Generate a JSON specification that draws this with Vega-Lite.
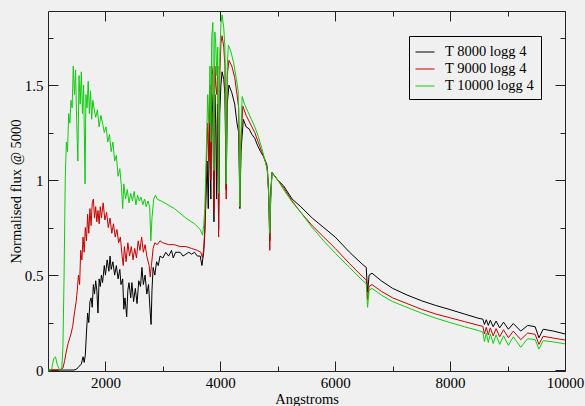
{
  "$schema": "https://vega.github.io/schema/vega-lite/v6.json",
  "width": 517,
  "height": 360,
  "autosize": {"type": "none"},
  "padding": {"left": 48, "top": 11, "right": 20, "bottom": 35},
  "background": "#f0f0f0",
  "config": {
    "font": "Liberation Serif",
    "view": {"stroke": "#222222", "strokeWidth": 1, "fill": null},
    "axis": {"domain": false, "grid": false, "tickColor": "#222222", "labelColor": "#000000", "titleColor": "#000000", "labelFont": "Liberation Serif", "titleFont": "Liberation Serif", "labelFontSize": 15, "titleFontSize": 14.5, "titleFontWeight": "normal"}
  },
  "datasets": {
    "spec": [
      {"s":"T 8000 logg 4","w":1000,"f":0},{"s":"T 8000 logg 4","w":1450,"f":0},{"s":"T 8000 logg 4","w":1500,"f":0.005},{"s":"T 8000 logg 4","w":1540,"f":0.02},{"s":"T 8000 logg 4","w":1580,"f":0.03},{"s":"T 8000 logg 4","w":1610,"f":0.07},{"s":"T 8000 logg 4","w":1630,"f":0.04},{"s":"T 8000 logg 4","w":1650,"f":0.08},{"s":"T 8000 logg 4","w":1670,"f":0.2},{"s":"T 8000 logg 4","w":1690,"f":0.3},{"s":"T 8000 logg 4","w":1710,"f":0.25},{"s":"T 8000 logg 4","w":1730,"f":0.36},{"s":"T 8000 logg 4","w":1750,"f":0.38},{"s":"T 8000 logg 4","w":1770,"f":0.33},{"s":"T 8000 logg 4","w":1790,"f":0.45},{"s":"T 8000 logg 4","w":1810,"f":0.4},{"s":"T 8000 logg 4","w":1830,"f":0.47},{"s":"T 8000 logg 4","w":1850,"f":0.42},{"s":"T 8000 logg 4","w":1870,"f":0.3},{"s":"T 8000 logg 4","w":1890,"f":0.48},{"s":"T 8000 logg 4","w":1910,"f":0.44},{"s":"T 8000 logg 4","w":1930,"f":0.5},{"s":"T 8000 logg 4","w":1950,"f":0.46},{"s":"T 8000 logg 4","w":1980,"f":0.55},{"s":"T 8000 logg 4","w":2000,"f":0.5},{"s":"T 8000 logg 4","w":2030,"f":0.58},{"s":"T 8000 logg 4","w":2060,"f":0.52},{"s":"T 8000 logg 4","w":2080,"f":0.6},{"s":"T 8000 logg 4","w":2100,"f":0.53},{"s":"T 8000 logg 4","w":2130,"f":0.57},{"s":"T 8000 logg 4","w":2160,"f":0.5},{"s":"T 8000 logg 4","w":2190,"f":0.55},{"s":"T 8000 logg 4","w":2220,"f":0.48},{"s":"T 8000 logg 4","w":2250,"f":0.53},{"s":"T 8000 logg 4","w":2270,"f":0.45},{"s":"T 8000 logg 4","w":2300,"f":0.48},{"s":"T 8000 logg 4","w":2320,"f":0.32},{"s":"T 8000 logg 4","w":2340,"f":0.38},{"s":"T 8000 logg 4","w":2370,"f":0.28},{"s":"T 8000 logg 4","w":2390,"f":0.42},{"s":"T 8000 logg 4","w":2410,"f":0.46},{"s":"T 8000 logg 4","w":2440,"f":0.38},{"s":"T 8000 logg 4","w":2460,"f":0.46},{"s":"T 8000 logg 4","w":2490,"f":0.36},{"s":"T 8000 logg 4","w":2520,"f":0.43},{"s":"T 8000 logg 4","w":2550,"f":0.35},{"s":"T 8000 logg 4","w":2580,"f":0.47},{"s":"T 8000 logg 4","w":2610,"f":0.44},{"s":"T 8000 logg 4","w":2635,"f":0.54},{"s":"T 8000 logg 4","w":2660,"f":0.45},{"s":"T 8000 logg 4","w":2690,"f":0.5},{"s":"T 8000 logg 4","w":2720,"f":0.4},{"s":"T 8000 logg 4","w":2750,"f":0.45},{"s":"T 8000 logg 4","w":2780,"f":0.3},{"s":"T 8000 logg 4","w":2795,"f":0.24},{"s":"T 8000 logg 4","w":2810,"f":0.42},{"s":"T 8000 logg 4","w":2830,"f":0.54},{"s":"T 8000 logg 4","w":2860,"f":0.5},{"s":"T 8000 logg 4","w":2890,"f":0.57},{"s":"T 8000 logg 4","w":2920,"f":0.55},{"s":"T 8000 logg 4","w":2950,"f":0.6},{"s":"T 8000 logg 4","w":3000,"f":0.59},{"s":"T 8000 logg 4","w":3050,"f":0.62},{"s":"T 8000 logg 4","w":3100,"f":0.6},{"s":"T 8000 logg 4","w":3150,"f":0.63},{"s":"T 8000 logg 4","w":3180,"f":0.59},{"s":"T 8000 logg 4","w":3220,"f":0.62},{"s":"T 8000 logg 4","w":3300,"f":0.62},{"s":"T 8000 logg 4","w":3350,"f":0.6},{"s":"T 8000 logg 4","w":3400,"f":0.61},{"s":"T 8000 logg 4","w":3450,"f":0.62},{"s":"T 8000 logg 4","w":3500,"f":0.61},{"s":"T 8000 logg 4","w":3550,"f":0.62},{"s":"T 8000 logg 4","w":3600,"f":0.6},{"s":"T 8000 logg 4","w":3650,"f":0.6},{"s":"T 8000 logg 4","w":3680,"f":0.55},{"s":"T 8000 logg 4","w":3710,"f":0.62},{"s":"T 8000 logg 4","w":3730,"f":0.72},{"s":"T 8000 logg 4","w":3750,"f":0.9},{"s":"T 8000 logg 4","w":3770,"f":1.1},{"s":"T 8000 logg 4","w":3790,"f":0.85},{"s":"T 8000 logg 4","w":3810,"f":1.3},{"s":"T 8000 logg 4","w":3835,"f":0.9},{"s":"T 8000 logg 4","w":3850,"f":1.45},{"s":"T 8000 logg 4","w":3870,"f":1.35},{"s":"T 8000 logg 4","w":3889,"f":0.78},{"s":"T 8000 logg 4","w":3905,"f":1.45},{"s":"T 8000 logg 4","w":3920,"f":1.3},{"s":"T 8000 logg 4","w":3934,"f":0.9},{"s":"T 8000 logg 4","w":3950,"f":1.4},{"s":"T 8000 logg 4","w":3970,"f":0.74},{"s":"T 8000 logg 4","w":3990,"f":1.35},{"s":"T 8000 logg 4","w":4010,"f":1.5},{"s":"T 8000 logg 4","w":4030,"f":1.57},{"s":"T 8000 logg 4","w":4060,"f":1.53},{"s":"T 8000 logg 4","w":4080,"f":1.45},{"s":"T 8000 logg 4","w":4102,"f":0.95},{"s":"T 8000 logg 4","w":4120,"f":1.4},{"s":"T 8000 logg 4","w":4150,"f":1.5},{"s":"T 8000 logg 4","w":4200,"f":1.46},{"s":"T 8000 logg 4","w":4250,"f":1.4},{"s":"T 8000 logg 4","w":4290,"f":1.3},{"s":"T 8000 logg 4","w":4320,"f":1.25},{"s":"T 8000 logg 4","w":4340,"f":0.85},{"s":"T 8000 logg 4","w":4360,"f":1.15},{"s":"T 8000 logg 4","w":4400,"f":1.32},{"s":"T 8000 logg 4","w":4450,"f":1.28},{"s":"T 8000 logg 4","w":4500,"f":1.27},{"s":"T 8000 logg 4","w":4550,"f":1.24},{"s":"T 8000 logg 4","w":4600,"f":1.22},{"s":"T 8000 logg 4","w":4650,"f":1.18},{"s":"T 8000 logg 4","w":4700,"f":1.15},{"s":"T 8000 logg 4","w":4760,"f":1.12},{"s":"T 8000 logg 4","w":4810,"f":1.08},{"s":"T 8000 logg 4","w":4840,"f":0.95},{"s":"T 8000 logg 4","w":4861,"f":0.68},{"s":"T 8000 logg 4","w":4880,"f":0.95},{"s":"T 8000 logg 4","w":4900,"f":1.04},{"s":"T 8000 logg 4","w":4950,"f":1.02},{"s":"T 8000 logg 4","w":5000,"f":1.0},{"s":"T 8000 logg 4","w":5100,"f":0.97},{"s":"T 8000 logg 4","w":5250,"f":0.9},{"s":"T 8000 logg 4","w":5400,"f":0.86},{"s":"T 8000 logg 4","w":5600,"f":0.8},{"s":"T 8000 logg 4","w":5800,"f":0.75},{"s":"T 8000 logg 4","w":6000,"f":0.7},{"s":"T 8000 logg 4","w":6250,"f":0.62},{"s":"T 8000 logg 4","w":6480,"f":0.555},{"s":"T 8000 logg 4","w":6540,"f":0.54},{"s":"T 8000 logg 4","w":6563,"f":0.41},{"s":"T 8000 logg 4","w":6590,"f":0.5},{"s":"T 8000 logg 4","w":6640,"f":0.51},{"s":"T 8000 logg 4","w":6800,"f":0.47},{"s":"T 8000 logg 4","w":7000,"f":0.43},{"s":"T 8000 logg 4","w":7250,"f":0.395},{"s":"T 8000 logg 4","w":7500,"f":0.365},{"s":"T 8000 logg 4","w":7750,"f":0.34},{"s":"T 8000 logg 4","w":8000,"f":0.318},{"s":"T 8000 logg 4","w":8250,"f":0.295},{"s":"T 8000 logg 4","w":8500,"f":0.272},{"s":"T 8000 logg 4","w":8570,"f":0.268},{"s":"T 8000 logg 4","w":8598,"f":0.24},{"s":"T 8000 logg 4","w":8630,"f":0.265},{"s":"T 8000 logg 4","w":8665,"f":0.235},{"s":"T 8000 logg 4","w":8700,"f":0.262},{"s":"T 8000 logg 4","w":8750,"f":0.228},{"s":"T 8000 logg 4","w":8800,"f":0.258},{"s":"T 8000 logg 4","w":8863,"f":0.222},{"s":"T 8000 logg 4","w":8930,"f":0.252},{"s":"T 8000 logg 4","w":9015,"f":0.215},{"s":"T 8000 logg 4","w":9100,"f":0.245},{"s":"T 8000 logg 4","w":9229,"f":0.205},{"s":"T 8000 logg 4","w":9350,"f":0.235},{"s":"T 8000 logg 4","w":9480,"f":0.228},{"s":"T 8000 logg 4","w":9546,"f":0.17},{"s":"T 8000 logg 4","w":9620,"f":0.215},{"s":"T 8000 logg 4","w":9800,"f":0.205},{"s":"T 8000 logg 4","w":10000,"f":0.19},

      {"s":"T 9000 logg 4","w":1000,"f":0},{"s":"T 9000 logg 4","w":1200,"f":0},{"s":"T 9000 logg 4","w":1230,"f":0.005},{"s":"T 9000 logg 4","w":1260,"f":0.01},{"s":"T 9000 logg 4","w":1290,"f":0.05},{"s":"T 9000 logg 4","w":1320,"f":0.1},{"s":"T 9000 logg 4","w":1350,"f":0.14},{"s":"T 9000 logg 4","w":1380,"f":0.17},{"s":"T 9000 logg 4","w":1400,"f":0.19},{"s":"T 9000 logg 4","w":1430,"f":0.23},{"s":"T 9000 logg 4","w":1460,"f":0.3},{"s":"T 9000 logg 4","w":1490,"f":0.36},{"s":"T 9000 logg 4","w":1510,"f":0.42},{"s":"T 9000 logg 4","w":1530,"f":0.5},{"s":"T 9000 logg 4","w":1550,"f":0.45},{"s":"T 9000 logg 4","w":1570,"f":0.63},{"s":"T 9000 logg 4","w":1590,"f":0.58},{"s":"T 9000 logg 4","w":1610,"f":0.7},{"s":"T 9000 logg 4","w":1630,"f":0.62},{"s":"T 9000 logg 4","w":1650,"f":0.75},{"s":"T 9000 logg 4","w":1670,"f":0.68},{"s":"T 9000 logg 4","w":1690,"f":0.82},{"s":"T 9000 logg 4","w":1710,"f":0.72},{"s":"T 9000 logg 4","w":1730,"f":0.85},{"s":"T 9000 logg 4","w":1750,"f":0.76},{"s":"T 9000 logg 4","w":1770,"f":0.88},{"s":"T 9000 logg 4","w":1790,"f":0.9},{"s":"T 9000 logg 4","w":1810,"f":0.8},{"s":"T 9000 logg 4","w":1830,"f":0.86},{"s":"T 9000 logg 4","w":1850,"f":0.78},{"s":"T 9000 logg 4","w":1870,"f":0.84},{"s":"T 9000 logg 4","w":1890,"f":0.77},{"s":"T 9000 logg 4","w":1910,"f":0.86},{"s":"T 9000 logg 4","w":1930,"f":0.8},{"s":"T 9000 logg 4","w":1960,"f":0.88},{"s":"T 9000 logg 4","w":1990,"f":0.79},{"s":"T 9000 logg 4","w":2020,"f":0.83},{"s":"T 9000 logg 4","w":2050,"f":0.75},{"s":"T 9000 logg 4","w":2080,"f":0.8},{"s":"T 9000 logg 4","w":2110,"f":0.72},{"s":"T 9000 logg 4","w":2140,"f":0.77},{"s":"T 9000 logg 4","w":2170,"f":0.7},{"s":"T 9000 logg 4","w":2200,"f":0.74},{"s":"T 9000 logg 4","w":2230,"f":0.67},{"s":"T 9000 logg 4","w":2260,"f":0.7},{"s":"T 9000 logg 4","w":2290,"f":0.6},{"s":"T 9000 logg 4","w":2310,"f":0.55},{"s":"T 9000 logg 4","w":2330,"f":0.65},{"s":"T 9000 logg 4","w":2360,"f":0.57},{"s":"T 9000 logg 4","w":2390,"f":0.67},{"s":"T 9000 logg 4","w":2420,"f":0.6},{"s":"T 9000 logg 4","w":2450,"f":0.65},{"s":"T 9000 logg 4","w":2480,"f":0.58},{"s":"T 9000 logg 4","w":2510,"f":0.64},{"s":"T 9000 logg 4","w":2540,"f":0.59},{"s":"T 9000 logg 4","w":2570,"f":0.68},{"s":"T 9000 logg 4","w":2600,"f":0.63},{"s":"T 9000 logg 4","w":2630,"f":0.7},{"s":"T 9000 logg 4","w":2660,"f":0.62},{"s":"T 9000 logg 4","w":2690,"f":0.66},{"s":"T 9000 logg 4","w":2720,"f":0.6},{"s":"T 9000 logg 4","w":2760,"f":0.55},{"s":"T 9000 logg 4","w":2780,"f":0.49},{"s":"T 9000 logg 4","w":2800,"f":0.55},{"s":"T 9000 logg 4","w":2830,"f":0.64},{"s":"T 9000 logg 4","w":2860,"f":0.67},{"s":"T 9000 logg 4","w":2900,"f":0.66},{"s":"T 9000 logg 4","w":2950,"f":0.68},{"s":"T 9000 logg 4","w":3000,"f":0.67},{"s":"T 9000 logg 4","w":3100,"f":0.66},{"s":"T 9000 logg 4","w":3200,"f":0.66},{"s":"T 9000 logg 4","w":3300,"f":0.65},{"s":"T 9000 logg 4","w":3400,"f":0.65},{"s":"T 9000 logg 4","w":3500,"f":0.64},{"s":"T 9000 logg 4","w":3600,"f":0.63},{"s":"T 9000 logg 4","w":3660,"f":0.62},{"s":"T 9000 logg 4","w":3690,"f":0.59},{"s":"T 9000 logg 4","w":3715,"f":0.65},{"s":"T 9000 logg 4","w":3735,"f":0.8},{"s":"T 9000 logg 4","w":3760,"f":1.1},{"s":"T 9000 logg 4","w":3780,"f":1.3},{"s":"T 9000 logg 4","w":3800,"f":1.1},{"s":"T 9000 logg 4","w":3820,"f":1.5},{"s":"T 9000 logg 4","w":3835,"f":1.0},{"s":"T 9000 logg 4","w":3850,"f":1.6},{"s":"T 9000 logg 4","w":3870,"f":1.55},{"s":"T 9000 logg 4","w":3889,"f":0.84},{"s":"T 9000 logg 4","w":3905,"f":1.6},{"s":"T 9000 logg 4","w":3920,"f":1.5},{"s":"T 9000 logg 4","w":3940,"f":1.45},{"s":"T 9000 logg 4","w":3955,"f":1.6},{"s":"T 9000 logg 4","w":3970,"f":0.7},{"s":"T 9000 logg 4","w":3990,"f":1.55},{"s":"T 9000 logg 4","w":4010,"f":1.72},{"s":"T 9000 logg 4","w":4030,"f":1.76},{"s":"T 9000 logg 4","w":4060,"f":1.7},{"s":"T 9000 logg 4","w":4080,"f":1.6},{"s":"T 9000 logg 4","w":4102,"f":0.9},{"s":"T 9000 logg 4","w":4120,"f":1.55},{"s":"T 9000 logg 4","w":4150,"f":1.63},{"s":"T 9000 logg 4","w":4200,"f":1.6},{"s":"T 9000 logg 4","w":4250,"f":1.54},{"s":"T 9000 logg 4","w":4290,"f":1.45},{"s":"T 9000 logg 4","w":4320,"f":1.38},{"s":"T 9000 logg 4","w":4340,"f":0.86},{"s":"T 9000 logg 4","w":4360,"f":1.2},{"s":"T 9000 logg 4","w":4390,"f":1.39},{"s":"T 9000 logg 4","w":4450,"f":1.34},{"s":"T 9000 logg 4","w":4500,"f":1.31},{"s":"T 9000 logg 4","w":4550,"f":1.28},{"s":"T 9000 logg 4","w":4600,"f":1.25},{"s":"T 9000 logg 4","w":4660,"f":1.2},{"s":"T 9000 logg 4","w":4720,"f":1.15},{"s":"T 9000 logg 4","w":4780,"f":1.1},{"s":"T 9000 logg 4","w":4820,"f":1.06},{"s":"T 9000 logg 4","w":4845,"f":0.9},{"s":"T 9000 logg 4","w":4861,"f":0.63},{"s":"T 9000 logg 4","w":4875,"f":0.9},{"s":"T 9000 logg 4","w":4900,"f":1.04},{"s":"T 9000 logg 4","w":4950,"f":1.02},{"s":"T 9000 logg 4","w":5000,"f":1.0},{"s":"T 9000 logg 4","w":5100,"f":0.96},{"s":"T 9000 logg 4","w":5250,"f":0.89},{"s":"T 9000 logg 4","w":5400,"f":0.83},{"s":"T 9000 logg 4","w":5600,"f":0.76},{"s":"T 9000 logg 4","w":5800,"f":0.7},{"s":"T 9000 logg 4","w":6000,"f":0.64},{"s":"T 9000 logg 4","w":6250,"f":0.56},{"s":"T 9000 logg 4","w":6480,"f":0.49},{"s":"T 9000 logg 4","w":6540,"f":0.475},{"s":"T 9000 logg 4","w":6563,"f":0.37},{"s":"T 9000 logg 4","w":6590,"f":0.44},{"s":"T 9000 logg 4","w":6640,"f":0.45},{"s":"T 9000 logg 4","w":6800,"f":0.415},{"s":"T 9000 logg 4","w":7000,"f":0.38},{"s":"T 9000 logg 4","w":7250,"f":0.35},{"s":"T 9000 logg 4","w":7500,"f":0.32},{"s":"T 9000 logg 4","w":7750,"f":0.295},{"s":"T 9000 logg 4","w":8000,"f":0.275},{"s":"T 9000 logg 4","w":8250,"f":0.255},{"s":"T 9000 logg 4","w":8500,"f":0.235},{"s":"T 9000 logg 4","w":8570,"f":0.23},{"s":"T 9000 logg 4","w":8598,"f":0.19},{"s":"T 9000 logg 4","w":8630,"f":0.225},{"s":"T 9000 logg 4","w":8665,"f":0.185},{"s":"T 9000 logg 4","w":8700,"f":0.222},{"s":"T 9000 logg 4","w":8750,"f":0.18},{"s":"T 9000 logg 4","w":8800,"f":0.218},{"s":"T 9000 logg 4","w":8863,"f":0.175},{"s":"T 9000 logg 4","w":8930,"f":0.212},{"s":"T 9000 logg 4","w":9015,"f":0.17},{"s":"T 9000 logg 4","w":9100,"f":0.205},{"s":"T 9000 logg 4","w":9229,"f":0.16},{"s":"T 9000 logg 4","w":9350,"f":0.195},{"s":"T 9000 logg 4","w":9480,"f":0.188},{"s":"T 9000 logg 4","w":9546,"f":0.135},{"s":"T 9000 logg 4","w":9620,"f":0.178},{"s":"T 9000 logg 4","w":9800,"f":0.168},{"s":"T 9000 logg 4","w":10000,"f":0.158},

      {"s":"T 10000 logg 4","w":1000,"f":0},{"s":"T 10000 logg 4","w":1060,"f":0},{"s":"T 10000 logg 4","w":1100,"f":0.06},{"s":"T 10000 logg 4","w":1130,"f":0.07},{"s":"T 10000 logg 4","w":1160,"f":0.03},{"s":"T 10000 logg 4","w":1200,"f":0},{"s":"T 10000 logg 4","w":1240,"f":0.01},{"s":"T 10000 logg 4","w":1260,"f":0.12},{"s":"T 10000 logg 4","w":1280,"f":0.5},{"s":"T 10000 logg 4","w":1300,"f":1.0},{"s":"T 10000 logg 4","w":1320,"f":1.2},{"s":"T 10000 logg 4","w":1340,"f":1.15},{"s":"T 10000 logg 4","w":1360,"f":1.35},{"s":"T 10000 logg 4","w":1380,"f":1.3},{"s":"T 10000 logg 4","w":1400,"f":1.42},{"s":"T 10000 logg 4","w":1420,"f":1.38},{"s":"T 10000 logg 4","w":1440,"f":1.6},{"s":"T 10000 logg 4","w":1460,"f":1.45},{"s":"T 10000 logg 4","w":1480,"f":1.58},{"s":"T 10000 logg 4","w":1500,"f":1.3},{"s":"T 10000 logg 4","w":1520,"f":1.1},{"s":"T 10000 logg 4","w":1540,"f":1.55},{"s":"T 10000 logg 4","w":1560,"f":1.4},{"s":"T 10000 logg 4","w":1580,"f":1.57},{"s":"T 10000 logg 4","w":1600,"f":1.35},{"s":"T 10000 logg 4","w":1620,"f":1.5},{"s":"T 10000 logg 4","w":1645,"f":0.98},{"s":"T 10000 logg 4","w":1660,"f":1.45},{"s":"T 10000 logg 4","w":1680,"f":1.38},{"s":"T 10000 logg 4","w":1700,"f":1.52},{"s":"T 10000 logg 4","w":1720,"f":1.35},{"s":"T 10000 logg 4","w":1740,"f":1.47},{"s":"T 10000 logg 4","w":1760,"f":1.32},{"s":"T 10000 logg 4","w":1780,"f":1.42},{"s":"T 10000 logg 4","w":1800,"f":1.38},{"s":"T 10000 logg 4","w":1830,"f":1.33},{"s":"T 10000 logg 4","w":1860,"f":1.37},{"s":"T 10000 logg 4","w":1890,"f":1.28},{"s":"T 10000 logg 4","w":1920,"f":1.34},{"s":"T 10000 logg 4","w":1950,"f":1.3},{"s":"T 10000 logg 4","w":1980,"f":1.25},{"s":"T 10000 logg 4","w":2010,"f":1.28},{"s":"T 10000 logg 4","w":2040,"f":1.2},{"s":"T 10000 logg 4","w":2070,"f":1.24},{"s":"T 10000 logg 4","w":2100,"f":1.15},{"s":"T 10000 logg 4","w":2130,"f":1.2},{"s":"T 10000 logg 4","w":2160,"f":1.1},{"s":"T 10000 logg 4","w":2190,"f":1.13},{"s":"T 10000 logg 4","w":2220,"f":1.02},{"s":"T 10000 logg 4","w":2250,"f":1.06},{"s":"T 10000 logg 4","w":2280,"f":0.96},{"s":"T 10000 logg 4","w":2300,"f":0.85},{"s":"T 10000 logg 4","w":2320,"f":0.98},{"s":"T 10000 logg 4","w":2350,"f":0.9},{"s":"T 10000 logg 4","w":2380,"f":0.95},{"s":"T 10000 logg 4","w":2410,"f":0.88},{"s":"T 10000 logg 4","w":2440,"f":0.93},{"s":"T 10000 logg 4","w":2470,"f":0.89},{"s":"T 10000 logg 4","w":2500,"f":0.94},{"s":"T 10000 logg 4","w":2530,"f":0.87},{"s":"T 10000 logg 4","w":2560,"f":0.92},{"s":"T 10000 logg 4","w":2590,"f":0.89},{"s":"T 10000 logg 4","w":2620,"f":0.91},{"s":"T 10000 logg 4","w":2650,"f":0.87},{"s":"T 10000 logg 4","w":2680,"f":0.9},{"s":"T 10000 logg 4","w":2710,"f":0.86},{"s":"T 10000 logg 4","w":2740,"f":0.89},{"s":"T 10000 logg 4","w":2770,"f":0.86},{"s":"T 10000 logg 4","w":2790,"f":0.68},{"s":"T 10000 logg 4","w":2810,"f":0.8},{"s":"T 10000 logg 4","w":2840,"f":0.9},{"s":"T 10000 logg 4","w":2870,"f":0.92},{"s":"T 10000 logg 4","w":2900,"f":0.9},{"s":"T 10000 logg 4","w":3000,"f":0.885},{"s":"T 10000 logg 4","w":3200,"f":0.85},{"s":"T 10000 logg 4","w":3400,"f":0.8},{"s":"T 10000 logg 4","w":3550,"f":0.77},{"s":"T 10000 logg 4","w":3650,"f":0.74},{"s":"T 10000 logg 4","w":3690,"f":0.71},{"s":"T 10000 logg 4","w":3710,"f":0.76},{"s":"T 10000 logg 4","w":3730,"f":0.85},{"s":"T 10000 logg 4","w":3760,"f":1.2},{"s":"T 10000 logg 4","w":3780,"f":1.45},{"s":"T 10000 logg 4","w":3800,"f":1.3},{"s":"T 10000 logg 4","w":3820,"f":1.6},{"s":"T 10000 logg 4","w":3835,"f":1.2},{"s":"T 10000 logg 4","w":3850,"f":1.75},{"s":"T 10000 logg 4","w":3870,"f":1.83},{"s":"T 10000 logg 4","w":3889,"f":1.05},{"s":"T 10000 logg 4","w":3905,"f":1.78},{"s":"T 10000 logg 4","w":3920,"f":1.72},{"s":"T 10000 logg 4","w":3940,"f":1.55},{"s":"T 10000 logg 4","w":3955,"f":1.7},{"s":"T 10000 logg 4","w":3970,"f":0.93},{"s":"T 10000 logg 4","w":3990,"f":1.65},{"s":"T 10000 logg 4","w":4010,"f":1.82},{"s":"T 10000 logg 4","w":4030,"f":1.87},{"s":"T 10000 logg 4","w":4060,"f":1.8},{"s":"T 10000 logg 4","w":4080,"f":1.7},{"s":"T 10000 logg 4","w":4102,"f":0.98},{"s":"T 10000 logg 4","w":4120,"f":1.6},{"s":"T 10000 logg 4","w":4140,"f":1.71},{"s":"T 10000 logg 4","w":4180,"f":1.68},{"s":"T 10000 logg 4","w":4230,"f":1.62},{"s":"T 10000 logg 4","w":4280,"f":1.53},{"s":"T 10000 logg 4","w":4310,"f":1.47},{"s":"T 10000 logg 4","w":4330,"f":1.2},{"s":"T 10000 logg 4","w":4340,"f":0.86},{"s":"T 10000 logg 4","w":4355,"f":1.2},{"s":"T 10000 logg 4","w":4380,"f":1.44},{"s":"T 10000 logg 4","w":4420,"f":1.4},{"s":"T 10000 logg 4","w":4480,"f":1.36},{"s":"T 10000 logg 4","w":4540,"f":1.32},{"s":"T 10000 logg 4","w":4600,"f":1.28},{"s":"T 10000 logg 4","w":4660,"f":1.23},{"s":"T 10000 logg 4","w":4720,"f":1.17},{"s":"T 10000 logg 4","w":4780,"f":1.1},{"s":"T 10000 logg 4","w":4820,"f":1.05},{"s":"T 10000 logg 4","w":4845,"f":0.9},{"s":"T 10000 logg 4","w":4861,"f":0.72},{"s":"T 10000 logg 4","w":4875,"f":0.9},{"s":"T 10000 logg 4","w":4900,"f":1.04},{"s":"T 10000 logg 4","w":4950,"f":1.02},{"s":"T 10000 logg 4","w":5000,"f":1.0},{"s":"T 10000 logg 4","w":5100,"f":0.95},{"s":"T 10000 logg 4","w":5250,"f":0.885},{"s":"T 10000 logg 4","w":5400,"f":0.83},{"s":"T 10000 logg 4","w":5600,"f":0.75},{"s":"T 10000 logg 4","w":5800,"f":0.68},{"s":"T 10000 logg 4","w":6000,"f":0.615},{"s":"T 10000 logg 4","w":6250,"f":0.54},{"s":"T 10000 logg 4","w":6480,"f":0.47},{"s":"T 10000 logg 4","w":6540,"f":0.455},{"s":"T 10000 logg 4","w":6563,"f":0.33},{"s":"T 10000 logg 4","w":6590,"f":0.42},{"s":"T 10000 logg 4","w":6640,"f":0.43},{"s":"T 10000 logg 4","w":6800,"f":0.395},{"s":"T 10000 logg 4","w":7000,"f":0.36},{"s":"T 10000 logg 4","w":7250,"f":0.33},{"s":"T 10000 logg 4","w":7500,"f":0.3},{"s":"T 10000 logg 4","w":7750,"f":0.273},{"s":"T 10000 logg 4","w":8000,"f":0.25},{"s":"T 10000 logg 4","w":8250,"f":0.228},{"s":"T 10000 logg 4","w":8500,"f":0.207},{"s":"T 10000 logg 4","w":8570,"f":0.2},{"s":"T 10000 logg 4","w":8598,"f":0.15},{"s":"T 10000 logg 4","w":8630,"f":0.195},{"s":"T 10000 logg 4","w":8665,"f":0.145},{"s":"T 10000 logg 4","w":8700,"f":0.19},{"s":"T 10000 logg 4","w":8750,"f":0.14},{"s":"T 10000 logg 4","w":8800,"f":0.185},{"s":"T 10000 logg 4","w":8863,"f":0.135},{"s":"T 10000 logg 4","w":8930,"f":0.18},{"s":"T 10000 logg 4","w":9015,"f":0.13},{"s":"T 10000 logg 4","w":9100,"f":0.175},{"s":"T 10000 logg 4","w":9229,"f":0.12},{"s":"T 10000 logg 4","w":9350,"f":0.165},{"s":"T 10000 logg 4","w":9480,"f":0.16},{"s":"T 10000 logg 4","w":9546,"f":0.11},{"s":"T 10000 logg 4","w":9620,"f":0.155},{"s":"T 10000 logg 4","w":9800,"f":0.148},{"s":"T 10000 logg 4","w":10000,"f":0.138}
    ]
  },
  "data": {"name": "spec"},
  "resolve": {"axis": {"x": "independent", "y": "independent"}},
  "layer": [
    {
      "mark": {"type": "line", "strokeWidth": 1, "clip": true},
      "encoding": {
        "x": {"field": "w", "type": "quantitative", "scale": {"domain": [1000, 10000], "nice": false, "zero": false},
              "axis": {"orient": "bottom", "values": [2000, 4000, 6000, 8000, 10000], "format": "d", "tickSize": -10, "labelPadding": 14, "title": "Angstroms", "titlePadding": 2, "labelFlush": false}},
        "y": {"field": "f", "type": "quantitative", "scale": {"domain": [-0.005, 1.89], "nice": false, "zero": false},
              "axis": {"orient": "left", "values": [0, 0.5, 1, 1.5], "format": "~g", "tickSize": -10, "labelPadding": 15, "title": "Normalised flux @ 5000", "titlePadding": 1}},
        "color": {"field": "s", "type": "nominal",
                  "scale": {"domain": ["T 8000 logg 4", "T 9000 logg 4", "T 10000 logg 4"], "range": ["#000000", "#c80000", "#10cc10"]},
                  "legend": {"title": null, "orient": "none", "legendX": 361, "legendY": 25, "symbolType": "stroke", "symbolSize": 361, "symbolStrokeWidth": 1, "labelFontSize": 14.5, "labelFont": "Liberation Serif", "labelColor": "#000000", "labelOffset": 10, "rowPadding": -4, "padding": 6, "strokeColor": "#000000", "fillColor": "#f0f0f0", "cornerRadius": 0}}
      }
    },
    {
      "mark": {"type": "line", "opacity": 0},
      "encoding": {
        "x": {"field": "w", "type": "quantitative", "axis": {"orient": "top", "values": [2000, 4000, 6000, 8000, 10000], "tickSize": -10, "labels": false, "title": null}},
        "y": {"field": "f", "type": "quantitative", "axis": {"orient": "right", "values": [0, 0.5, 1, 1.5], "tickSize": -10, "labels": false, "title": null}}
      }
    },
    {
      "mark": {"type": "line", "opacity": 0},
      "encoding": {
        "x": {"field": "w", "type": "quantitative", "axis": {"orient": "bottom", "values": [3000, 5000, 7000, 9000], "tickSize": -5, "labels": false, "title": null}},
        "y": {"field": "f", "type": "quantitative", "axis": {"orient": "left", "values": [0.25, 0.75, 1.25, 1.75], "tickSize": -5, "labels": false, "title": null}}
      }
    },
    {
      "mark": {"type": "line", "opacity": 0},
      "encoding": {
        "x": {"field": "w", "type": "quantitative", "axis": {"orient": "top", "values": [3000, 5000, 7000, 9000], "tickSize": -5, "labels": false, "title": null}},
        "y": {"field": "f", "type": "quantitative", "axis": {"orient": "right", "values": [0.25, 0.75, 1.25, 1.75], "tickSize": -5, "labels": false, "title": null}}
      }
    }
  ]
}
